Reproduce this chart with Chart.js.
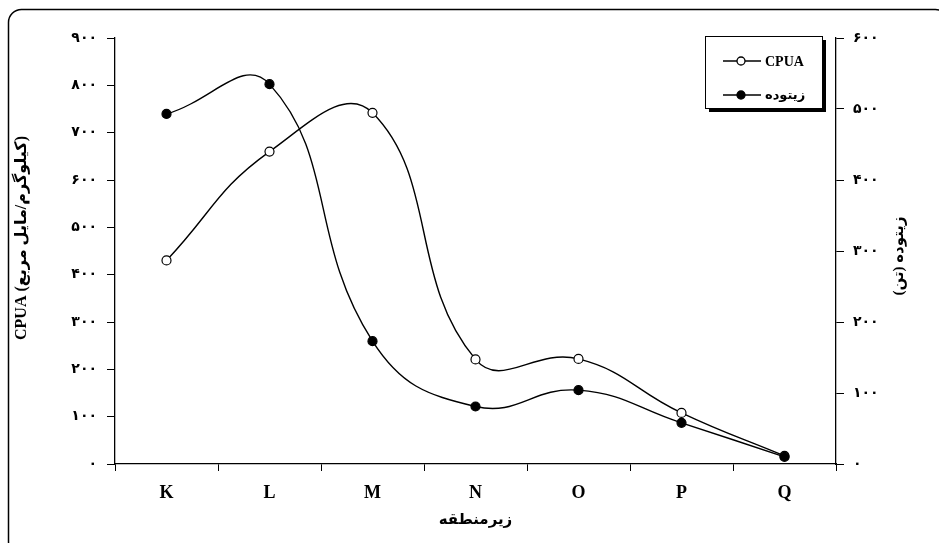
<!DOCTYPE html>
<html>
<head>
<meta charset="utf-8">
<script src="https://cdn.jsdelivr.net/npm/chart.js@4.4.1/dist/chart.umd.min.js"></script>
<style>
  body { margin: 0; background: #fff; }
  #wrap { width: 939px; height: 543px; position: relative; }
</style>
</head>
<body>
<div id="wrap"><canvas id="chart"></canvas></div>
<script>
// Sub-zones along the x axis
const subzones = ['K', 'L', 'M', 'N', 'O', 'P', 'Q'];

// CPUA (kg / sq. mile) - left axis
const cpua = [430, 660, 742, 221, 222, 108, 17];

// Biomass (tonnes) - right axis
const biomass = [493, 535, 173, 81, 104, 58, 10];

// Tick labels in Persian digits
const cpuaTickLabels = ['۰', '۱۰۰', '۲۰۰', '۳۰۰', '۴۰۰', '۵۰۰', '۶۰۰', '۷۰۰', '۸۰۰', '۹۰۰'];
const biomassTickLabels = ['۰', '۱۰۰', '۲۰۰', '۳۰۰', '۴۰۰', '۵۰۰', '۶۰۰'];

// Titles
const cpuaTitle = 'CPUA (کیلوگرم/مایل مربع)';
const biomassTitle = 'زیتوده (تن)';
const xTitle = 'زیرمنطقه';
const cpuaLabel = 'CPUA';
const biomassLabel = 'زیتوده';

const serif = '"Liberation Serif", "DejaVu Sans", serif';

// Frame, axis titles and boxed legend
const decorations = {
    id: 'decorations',
    afterDraw(chart) {
        const ctx = chart.ctx;
        const area = chart.chartArea;
        ctx.save();

        // rounded outer frame
        ctx.strokeStyle = '#000';
        ctx.lineWidth = 1.5;
        ctx.beginPath();
        ctx.roundRect(8.5, 9.5, 940, 545, 13);
        ctx.stroke();

        ctx.fillStyle = '#000';
        ctx.textAlign = 'center';
        ctx.textBaseline = 'middle';

        // left title
        ctx.save();
        ctx.translate(22, 238);
        ctx.rotate(-Math.PI / 2);
        ctx.font = 'bold 16px ' + serif;
        ctx.fillText(cpuaTitle, 0, 0);
        ctx.restore();

        // right title
        ctx.save();
        ctx.translate(899, 256);
        ctx.rotate(-Math.PI / 2);
        ctx.font = 'bold 15px ' + serif;
        ctx.fillText(biomassTitle, 0, 0);
        ctx.restore();

        // x title
        ctx.font = 'bold 15px ' + serif;
        ctx.fillText(xTitle, (area.left + area.right) / 2, 520);

        // legend box with shadow
        const bx = 705, by = 36, bw = 117, bh = 72;
        ctx.fillRect(bx + 4, by + 4, bw, bh);
        ctx.fillStyle = '#fff';
        ctx.fillRect(bx, by, bw, bh);
        ctx.lineWidth = 1;
        ctx.strokeRect(bx + 0.5, by + 0.5, bw, bh);

        const rows = [
            { y: 61, label: cpuaLabel, fill: '#fff', font: 'bold 14px ' + serif },
            { y: 95, label: biomassLabel, fill: '#000', font: 'bold 13px ' + serif }
        ];
        rows.forEach(r => {
            ctx.strokeStyle = '#000';
            ctx.lineWidth = 1.3;
            ctx.beginPath();
            ctx.moveTo(723, r.y);
            ctx.lineTo(761, r.y);
            ctx.stroke();
            ctx.beginPath();
            ctx.arc(741, r.y, 4, 0, Math.PI * 2);
            ctx.fillStyle = r.fill;
            ctx.fill();
            ctx.stroke();
            ctx.fillStyle = '#000';
            ctx.textAlign = 'left';
            ctx.font = r.font;
            ctx.fillText(r.label, 765, r.y + 1);
        });

        ctx.restore();
    }
};

const ctx = document.getElementById('chart').getContext('2d');
const chart = new Chart(ctx, {
    type: 'line',
    data: {
        labels: subzones,
        datasets: [
            {
                label: cpuaLabel,
                data: cpua,
                yAxisID: 'y',
                borderColor: '#000',
                borderWidth: 1.4,
                backgroundColor: '#fff',
                pointBackgroundColor: '#fff',
                pointBorderColor: '#000',
                pointBorderWidth: 1.2,
                pointRadius: 4.5,
                tension: 0.45,
                order: 2,
            },
            {
                label: biomassLabel,
                data: biomass,
                yAxisID: 'y1',
                borderColor: '#000',
                borderWidth: 1.4,
                backgroundColor: '#000',
                pointBackgroundColor: '#000',
                pointBorderColor: '#000',
                pointBorderWidth: 1.2,
                pointRadius: 4.5,
                tension: 0.45,
                order: 1,
            },
        ],
    },
    options: {
        responsive: true,
        maintainAspectRatio: false,
        animation: false,
        layout: { padding: { top: 38, left: 0, right: 0, bottom: 0 } },
        plugins: {
            legend: { display: false },
            tooltip: { enabled: false },
        },
        scales: {
            x: {
                offset: true,
                grid: { offset: true, drawOnChartArea: false, color: '#000', tickLength: 7 },
                border: { color: '#000', width: 1.3 },
                ticks: {
                    color: '#000',
                    padding: 12,
                    font: { family: serif, size: 18, weight: 'bold' },
                },
                afterFit(scale) { scale.height = 79; },
            },
            y: {
                position: 'left',
                min: 0,
                max: 900,
                ticks: {
                    stepSize: 100,
                    color: '#000',
                    padding: 10,
                    font: { family: serif, size: 14, weight: 'bold' },
                    callback: (v, i) => cpuaTickLabels[i],
                },
                grid: { drawOnChartArea: false, color: '#000', tickLength: 8 },
                border: { color: '#000', width: 1.3 },
                afterFit(scale) { scale.width = 115; },
            },
            y1: {
                position: 'right',
                min: 0,
                max: 600,
                ticks: {
                    stepSize: 100,
                    color: '#000',
                    padding: 9,
                    font: { family: serif, size: 14, weight: 'bold' },
                    callback: (v, i) => biomassTickLabels[i],
                },
                grid: { drawOnChartArea: false, color: '#000', tickLength: 8 },
                border: { color: '#000', width: 1.3 },
                afterFit(scale) { scale.width = 103; },
            },
        },
    },
    plugins: [decorations],
});
</script>
</body>
</html>
